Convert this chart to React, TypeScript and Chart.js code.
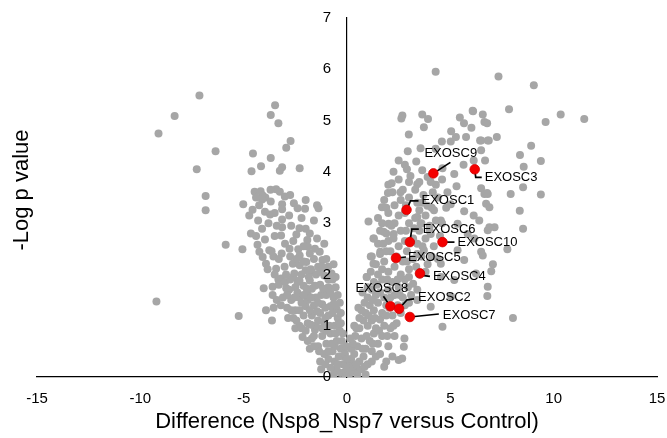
import React, { useEffect, useRef } from "react";
import { Chart, registerables } from "chart.js";

Chart.register(...registerables);

const xTicks = [-15, -10, -5, 0, 5, 10, 15];
const yTicks = [0, 1, 2, 3, 4, 5, 6, 7];

// grey proteins, left side (sparse / outer)
const leftSparse: [number, number][] = [
  [-7.14, 5.49], [-8.34, 5.09], [-9.12, 4.75], [-6.36, 4.4], [-7.27, 4.05], [-6.84, 3.53], [-6.84, 3.25],
  [-5.87, 2.58], [-5.06, 2.49], [-9.22, 1.47], [-5.24, 1.19], [-3.92, 1.3], [-3.63, 1.1],
  [-3.48, 5.3], [-3.69, 5.11], [-3.32, 4.95], [-2.73, 4.6], [-2.94, 4.47], [-4.55, 4.36], [-3.69, 4.27],
  [-4.16, 4.11], [-4.62, 4.01], [-3.14, 4.09], [-3.25, 4.02], [-2.29, 4.07],
];

// grey proteins, left side (middle band)
const leftMid: [number, number][] = [
  [-4.47, 3.61], [-4.18, 3.62], [-4.08, 3.54], [-3.95, 3.5], [-3.43, 3.66], [-3.25, 3.61], [-3.01, 3.52],
  [-4.11, 3.46], [-5.02, 3.37], [-4.57, 3.26], [-4.73, 3.15], [-3.69, 3.42], [-3.97, 3.22], [-3.72, 3.17],
  [-3.14, 3.37], [-3.14, 3.27], [-2.57, 3.39], [-2.39, 3.29], [-2.03, 3.28], [-1.45, 3.35], [-1.38, 3.29],
  [-3.14, 3.07], [-3.14, 2.92], [-4.11, 2.89], [-4.65, 2.8], [-3.97, 2.68], [-3.19, 2.76], [-2.45, 2.78],
  [-2.0, 2.89], [-1.8, 2.8], [-1.92, 2.67], [-4.33, 2.58], [-4.24, 2.44], [-4.08, 2.34], [-3.76, 2.47],
  [-3.56, 2.35], [-3.16, 2.41], [-2.78, 2.5], [-2.36, 2.49], [-2.29, 2.37], [-1.89, 2.54], [-1.8, 2.41],
  [-1.32, 2.44], [-1.19, 2.28], [-3.92, 2.21], [-3.84, 2.1], [-3.43, 2.11], [-3.02, 2.15], [-2.62, 2.21],
  [-2.29, 2.18], [-1.97, 2.24], [-1.71, 2.05], [-0.91, 2.15], [-0.75, 2.02], [-3.19, 1.92], [-2.55, 2.02],
  [-2.39, 1.85], [-4.03, 1.73], [-3.6, 1.76], [-3.32, 1.9], [-2.94, 1.73],
];

// grey proteins, left side (dense core)
const leftDense: [number, number][] = [
  [-0.1, 0.1], [-0.3, 0.08], [-0.5, 0.15], [-0.2, 0.25], [-0.05, 0.02], [-0.15, 0.4],
  [-0.6, 0.3], [-0.9, 0.35], [-0.4, 0.4], [-1.1, 0.45], [-0.7, 0.5], [-0.3, 0.55], [-0.8, 0.18], [-1.3, 0.3],
  [-1.4, 0.6], [-1.0, 0.65], [-0.5, 0.7], [-1.7, 0.75], [-1.2, 0.8], [-0.8, 0.85], [-0.35, 0.9], [-2.0, 0.9], [-1.55, 0.92],
  [-2.3, 1.0], [-1.9, 1.05], [-1.5, 1.0], [-1.1, 1.05], [-0.6, 1.0], [-0.45, 1.15], [-2.6, 1.15], [-2.1, 1.2],
  [-1.7, 1.2], [-1.3, 1.25], [-0.9, 1.2], [-2.9, 1.35], [-2.5, 1.3], [-2.0, 1.38], [-1.6, 1.4], [-1.2, 1.42],
  [-0.8, 1.38], [-0.5, 1.32], [-3.1, 1.55], [-2.7, 1.5], [-2.3, 1.55], [-1.9, 1.6], [-1.5, 1.55], [-1.0, 1.6],
  [-0.65, 1.55], [-3.3, 1.8], [-2.8, 1.7], [-2.5, 1.75], [-2.1, 1.78], [-1.7, 1.72], [-1.3, 1.8], [-0.9, 1.75],
  [-0.7, 1.9], [-2.6, 1.95], [-2.2, 2.0], [-1.85, 1.95], [-1.5, 2.0], [-1.1, 1.98], [-1.4, 2.15], [-2.0, 2.08],
  [-1.6, 2.3], [-1.0, 2.3], [-2.45, 2.3], [-2.85, 1.15], [-3.4, 1.5], [-3.0, 1.85], [-2.2, 1.45], [-1.8, 1.3],
  [-1.4, 1.1], [-1.0, 0.9], [-0.6, 0.6], [-0.25, 0.7], [-0.4, 1.05], [-1.25, 1.6], [-1.8, 1.88], [-0.9, 0.5],
  [-1.6, 0.8], [-2.15, 0.78], [-1.25, 0.15], [-0.65, 0.05], [-1.9, 1.5], [-2.4, 1.65], [-0.55, 1.75],
  [-0.3, 1.25], [-1.05, 1.35], [-2.75, 1.9], [-3.55, 1.35], [-2.5, 0.95], [-1.8, 0.55],
];

// grey proteins, left side (additional core points)
const leftFill: [number, number][] = [
  [-0.15, 0.55], [-0.45, 0.25], [-0.75, 0.65], [-1.05, 0.25], [-1.35, 0.5], [-1.6, 0.6], [-1.9, 0.7],
  [-2.2, 0.95], [-0.2, 0.85], [-0.55, 0.85], [-0.85, 1.0], [-1.2, 0.95], [-1.75, 1.02], [-2.45, 1.1],
  [-0.3, 1.05], [-0.7, 1.25], [-1.05, 1.15], [-1.45, 1.28], [-2.3, 1.3], [-2.7, 1.3], [-3.2, 1.4],
  [-0.35, 1.45], [-0.65, 1.42], [-1.4, 1.45], [-1.75, 1.55], [-2.1, 1.6], [-2.55, 1.55], [-2.9, 1.6],
  [-3.6, 1.6], [-0.45, 1.6], [-0.8, 1.65], [-1.15, 1.72], [-1.55, 1.78], [-1.95, 1.72], [-2.3, 1.88],
  [-2.95, 2.0], [-3.5, 2.0], [-0.55, 1.95], [-0.9, 1.9], [-1.3, 2.05], [-1.75, 2.1], [-2.1, 2.25],
  [-2.75, 2.35], [-3.3, 2.3], [-3.65, 2.45], [-0.65, 2.2], [-1.2, 2.15], [-1.55, 2.5], [-2.1, 2.55],
  [-2.6, 2.65], [-3.0, 2.6], [-3.5, 2.75], [-4.4, 2.75], [-1.1, 2.6], [-1.45, 2.7], [-2.3, 2.9],
  [-2.7, 2.95], [-3.4, 2.95], [-3.8, 3.0], [-4.3, 3.05], [-1.6, 3.05], [-2.2, 3.1], [-2.8, 3.15],
  [-3.5, 3.2], [-4.25, 3.35], [-2.0, 3.45], [-2.75, 3.55], [-3.7, 3.65], [-4.4, 3.5], [-0.05, 0.6], [-0.1, 0.45],
];

// grey proteins, right side (sparse / outer)
const rightSparse: [number, number][] = [
  [4.29, 5.95], [7.33, 5.86], [9.04, 5.69], [7.84, 5.22], [10.34, 5.12], [11.48, 5.03], [9.61, 4.97],
  [2.68, 5.1], [2.63, 5.04], [3.64, 5.12], [3.92, 5.03], [5.46, 5.06], [5.66, 4.95], [6.1, 5.18], [6.57, 5.12],
  [6.65, 4.97], [6.02, 4.86], [2.99, 4.73], [3.72, 4.87], [5.04, 4.79], [5.27, 4.68], [5.76, 4.68], [4.59, 4.59],
  [5.02, 4.59], [6.44, 4.61], [6.86, 4.61], [7.25, 4.68], [8.91, 4.51], [2.94, 4.4], [3.56, 4.46], [4.29, 4.45],
  [8.37, 4.33], [9.38, 4.21], [2.5, 4.22], [2.8, 4.14], [6.13, 4.22], [5.64, 4.14], [3.64, 4.03], [4.62, 4.07],
  [3.07, 3.92], [5.19, 3.96], [2.16, 3.78], [3.4, 3.76], [4.05, 3.8], [5.3, 3.72], [6.49, 3.68], [7.92, 3.57],
  [9.38, 3.56], [1.98, 3.59], [2.59, 3.6], [4.86, 3.6], [6.81, 3.57], [1.69, 3.31], [3.89, 3.34], [4.21, 3.25],
  [5.02, 3.37], [5.67, 3.23], [8.36, 3.24], [1.04, 3.03], [2.01, 2.99], [3.4, 3.12], [3.56, 2.99], [4.54, 3.05],
  [5.35, 2.99], [6.4, 3.05], [6.81, 2.86], [8.52, 2.89], [1.28, 2.7], [1.77, 2.83], [2.26, 2.79], [4.05, 2.79],
  [5.84, 2.79], [6.16, 2.7], [1.61, 2.44], [3.72, 2.47], [5.35, 2.47], [5.67, 2.28], [6.49, 2.44], [1.28, 2.21],
  [4.54, 2.21], [7.06, 2.2], [6.24, 2.02], [0.96, 1.95], [4.54, 1.95], [5.19, 1.89], [6.81, 1.76], [6.79, 1.58],
  [5.04, 1.57], [8.03, 1.15], [4.62, 0.98], [4.05, 1.37], [3.4, 1.5], [8.55, 4.1], [8.52, 3.7], [7.76, 2.49],
  [6.98, 2.06], [6.57, 2.37], [6.89, 2.92], [7.14, 2.92], [6.73, 3.38], [6.89, 3.31], [6.65, 3.57], [6.78, 3.59],
  [6.68, 4.22], [6.49, 4.42], [6.81, 4.61], [6.49, 4.61], [6.08, 5.19], [6.78, 4.95], [6.13, 3.15],
];

// grey proteins, right side (dense core)
const rightDense: [number, number][] = [
  [0.1, 0.05], [0.25, 0.1], [0.4, 0.12], [0.05, 0.2], [0.15, 0.3], [0.3, 0.2], [0.5, 0.05], [0.6, 0.3],
  [0.35, 0.45], [0.8, 0.4], [0.2, 0.35], [0.7, 0.15], [1.0, 0.25], [0.0, 0.35], [0.5, 0.6], [0.9, 0.55],
  [1.2, 0.5], [0.7, 0.75], [1.1, 0.7], [1.5, 0.65], [0.4, 0.8], [1.3, 0.85], [1.7, 0.8], [1.4, 0.4],
  [0.6, 0.95], [1.0, 1.0], [1.4, 0.95], [1.8, 1.0], [2.1, 0.95], [0.8, 1.1], [1.2, 1.1], [1.6, 1.12], [2.4, 1.05],
  [0.9, 1.25], [1.3, 1.3], [1.7, 1.25], [2.2, 1.2], [2.6, 1.25], [1.1, 1.4], [1.5, 1.45], [1.9, 1.4], [2.8, 1.4],
  [1.0, 1.55], [1.4, 1.6], [1.8, 1.55], [2.3, 1.6], [2.7, 1.55], [3.1, 1.6], [1.2, 1.7], [2.0, 1.7], [2.5, 1.75],
  [1.3, 1.85], [1.7, 1.9], [2.2, 1.85], [2.8, 1.9], [3.2, 1.82], [1.5, 2.0], [2.0, 2.05], [2.6, 2.0], [3.0, 2.1],
  [1.4, 2.2], [1.8, 2.25], [2.7, 2.25], [3.2, 2.3], [1.6, 2.4], [2.1, 2.45], [3.6, 2.35], [3.9, 2.2],
  [1.5, 2.6], [2.0, 2.65], [2.5, 2.55], [3.4, 2.6], [3.8, 2.7], [4.2, 2.55], [1.9, 2.8], [2.6, 2.85], [3.5, 2.85],
  [4.0, 2.85], [2.3, 3.0], [3.0, 3.0], [3.3, 3.1], [3.6, 3.0], [3.8, 3.15], [4.3, 3.05], [2.5, 3.15], [4.0, 2.95],
  [2.6, 3.45], [3.0, 3.5], [3.4, 3.4], [4.4, 3.5], [3.7, 3.55], [2.2, 3.6], [3.3, 3.65], [2.5, 3.85], [3.0, 3.8],
  [4.6, 3.85], [4.3, 3.75], [2.78, 0.75], [2.75, 0.59], [2.67, 0.36], [2.5, 0.33], [2.0, 0.6], [1.9, 0.3],
  [2.3, 0.8], [0.35, 1.0], [0.55, 1.35], [0.75, 1.65], [0.95, 1.95], [1.15, 2.35], [1.3, 2.7], [1.7, 3.0], [1.9, 3.3],
];

// grey proteins, right side (additional core points)
const rightFill: [number, number][] = [
  [0.2, 0.55], [0.45, 0.25], [0.75, 0.55], [0.95, 0.8], [1.25, 0.65], [1.55, 0.9], [1.6, 0.45], [1.95, 0.8],
  [2.25, 1.0], [0.45, 0.95], [0.7, 1.3], [1.05, 1.2], [1.35, 1.15], [1.9, 1.2], [2.05, 1.35], [2.45, 1.4],
  [3.0, 1.45], [0.85, 1.45], [1.25, 1.5], [1.6, 1.65], [2.1, 1.55], [2.55, 1.6], [2.95, 1.75], [3.4, 1.7],
  [1.0, 1.75], [1.45, 1.8], [1.95, 1.9], [2.45, 1.9], [3.0, 1.95], [3.5, 2.0], [3.8, 2.05], [1.15, 2.05],
  [1.7, 2.1], [2.3, 2.15], [2.9, 2.25], [3.35, 2.15], [4.1, 2.35], [1.2, 2.35], [1.9, 2.45], [2.4, 2.35],
  [2.9, 2.45], [3.4, 2.4], [4.4, 2.3], [1.75, 2.6], [2.25, 2.7], [2.8, 2.65], [3.2, 2.7], [3.65, 2.55],
  [4.5, 2.75], [1.6, 2.85], [2.15, 2.95], [2.85, 2.85], [3.25, 2.9], [4.6, 3.0], [1.5, 3.1], [2.0, 3.2],
  [2.8, 3.2], [3.5, 3.25], [4.1, 3.3], [4.8, 3.3], [1.8, 3.45], [2.3, 3.35], [2.85, 3.35], [3.65, 3.4],
  [4.15, 3.6], [2.0, 3.75], [2.7, 3.65], [3.5, 3.8], [3.9, 3.9], [2.25, 4.0], [2.9, 4.05], [3.35, 4.2],
  [1.2, 0.3], [1.8, 0.2], [0.85, 0.2], [2.2, 0.4], [0.9, 0.05], [0.28, 0.65], [0.15, 0.75], [0.6, 1.15],
];

// highlighted exosome subunits
const geneNames = ["EXOSC9", "EXOSC3", "EXOSC1", "EXOSC6", "EXOSC10", "EXOSC5", "EXOSC4", "EXOSC8", "EXOSC2", "EXOSC7"];
const geneX = [4.18, 6.18, 2.88, 3.04, 4.62, 2.37, 3.53, 2.1, 2.52, 3.04];
const geneY = [3.97, 4.05, 3.26, 2.63, 2.63, 2.32, 2.02, 1.38, 1.33, 1.17];

// label placement (pixel offsets from the point) and leader line vertices
const labelLayout: { dx: number; dy: number; path: [number, number][] }[] = [
  { dx: -9, dy: -20, path: [[17, -11]] },
  { dx: 10, dy: 8, path: [[1, 8], [7, 8]] },
  { dx: 15, dy: -9, path: [[4, -9], [12, -9]] },
  { dx: 13, dy: -13, path: [[2, -13], [9, -13]] },
  { dx: 15, dy: 0, path: [[12, 0]] },
  { dx: 12, dy: -0.5, path: [[10, -1]] },
  { dx: 13, dy: 3, path: [[2, 2], [10, 3]] },
  { dx: -35, dy: -18, path: [[-7, -10]] },
  { dx: 19, dy: -11, path: [[8, -9], [15, -10]] },
  { dx: 33, dy: -2, path: [[29, -3]] },
];

const FONT = '"Liberation Sans", Arial, Helvetica, sans-serif';

const annotate = {
  id: "annotate",
  afterDatasetDraw(chart: any, args: any) {
    if (args.index !== 1) return;
    const ctx = chart.ctx;
    const xs = chart.scales.x;
    const ys = chart.scales.y;
    ctx.save();
    ctx.strokeStyle = "#000";
    ctx.lineWidth = 1.7;
    geneNames.forEach((_, i) => {
      const px = xs.getPixelForValue(geneX[i]);
      const py = ys.getPixelForValue(geneY[i]);
      ctx.beginPath();
      ctx.moveTo(px, py);
      labelLayout[i].path.forEach(([dx, dy]) => ctx.lineTo(px + dx, py + dy));
      ctx.stroke();
    });
    ctx.restore();
  },
  afterDatasetsDraw(chart: any) {
    const ctx = chart.ctx;
    const xs = chart.scales.x;
    const ys = chart.scales.y;
    ctx.save();
    ctx.fillStyle = "#000";
    // y tick labels, left of the centred axis
    ctx.font = `15px ${FONT}`;
    ctx.textAlign = "right";
    ctx.textBaseline = "middle";
    const axisX = xs.getPixelForValue(0);
    yTicks.forEach((v) => {
      ctx.fillText(String(v), axisX - 16, ys.getPixelForValue(v));
    });
    // gene labels
    ctx.font = `13px ${FONT}`;
    ctx.textAlign = "left";
    geneNames.forEach((name, i) => {
      const px = xs.getPixelForValue(geneX[i]);
      const py = ys.getPixelForValue(geneY[i]);
      ctx.fillText(name, px + labelLayout[i].dx, py + labelLayout[i].dy);
    });
    // y axis title
    ctx.translate(22, 190);
    ctx.rotate(-Math.PI / 2);
    ctx.textAlign = "center";
    ctx.font = `22px ${FONT}`;
    ctx.fillText("-Log p value", 0, 0);
    ctx.restore();
  },
};

const toPts = (arr: [number, number][]) => arr.map(([x, y]) => ({ x, y }));

export default function App() {
  const ref = useRef<HTMLCanvasElement | null>(null);

  useEffect(() => {
    document.body.style.margin = "0";
    if (!ref.current) return;
    const grey = [...leftSparse, ...leftMid, ...leftDense, ...leftFill, ...rightSparse, ...rightDense, ...rightFill];
    const chart = new Chart(ref.current, {
      type: "scatter",
      data: {
        datasets: [
          {
            label: "EXOSC",
            data: geneX.map((x, i) => ({ x, y: geneY[i] })),
            backgroundColor: "#f40000",
            borderColor: "#d20000",
            borderWidth: 0.8,
            pointRadius: 4.8,
          },
          {
            label: "proteins",
            data: toPts(grey),
            backgroundColor: "#a6a6a6",
            borderWidth: 0,
            pointRadius: 4,
          },
        ],
      },
      options: {
        animation: false,
        responsive: false,
        devicePixelRatio: 1,
        layout: { padding: { left: 37, right: 10, top: 18, bottom: 0 } },
        plugins: { legend: { display: false }, tooltip: { enabled: false } },
        scales: {
          x: {
            type: "linear",
            min: -15,
            max: 15,
            position: "bottom",
            grid: { display: false, drawTicks: false },
            border: { display: true, color: "#000", width: 1.2 },
            afterBuildTicks: (s: any) => {
              s.ticks = xTicks.map((v) => ({ value: v }));
            },
            afterFit: (s: any) => {
              s.height = 61;
              s.paddingLeft = 0;
              s.paddingRight = 0;
            },
            ticks: { color: "#000", padding: 13, font: { family: FONT, size: 15 }, maxRotation: 0 },
            title: {
              display: true,
              text: "Difference (Nsp8_Nsp7 versus Control)",
              color: "#000",
              font: { family: FONT, size: 22 },
              padding: { top: 0, bottom: 3 },
            },
          },
          y: {
            type: "linear",
            min: 0,
            max: 7,
            position: { x: 0 },
            grid: { display: false, drawTicks: false },
            border: { display: true, color: "#000", width: 1.2 },
            afterBuildTicks: (s: any) => {
              s.ticks = yTicks.map((v) => ({ value: v }));
            },
            afterFit: (s: any) => {
              s.width = 0;
            },
            ticks: { display: false },
          },
        },
      },
      plugins: [annotate],
    });
    return () => chart.destroy();
  }, []);

  return (
    <div style={{ width: 667, height: 438, background: "#fff" }}>
      <canvas ref={ref} width={667} height={438} style={{ display: "block" }} />
    </div>
  );
}
